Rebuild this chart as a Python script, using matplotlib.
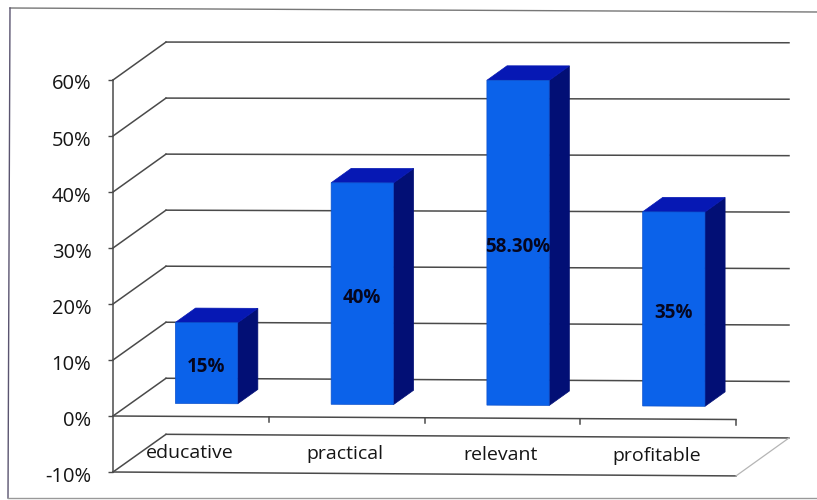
import matplotlib
matplotlib.use('Agg')
import matplotlib.pyplot as plt
from matplotlib.patches import Polygon
from matplotlib.lines import Line2D
from matplotlib.transforms import Affine2D

# values
categories = ['educative', 'practical', 'relevant', 'profitable']
values = [15, 40, 58.3, 35]
value_labels = ['15%', '40%', '58.30%', '35%']
y_ticks = [-10, 0, 10, 20, 30, 40, 50, 60]
y_tick_labels = ['-10%', '0%', '10%', '20%', '30%', '40%', '50%', '60%']

plt.rcParams['font.family'] = ['Open Sans', 'DejaVu Sans']

W, H = 817, 500
fig = plt.figure(figsize=(W / 100, H / 100), dpi=100)
ax = fig.add_axes([113 / W, (H - 472) / H, 623 / W, 392 / H])
ax.set_xlim(0, 4)
ax.set_ylim(-10, 60)
ax.patch.set_visible(False)

# oblique depth: a full step back moves this far in data units
DEPTH_X = 53 / 155.75
DEPTH_Y = 38 / 5.6
# the scan sags to the right, more at the bottom than at the top
SAG = 0.7
# bar tops sit a little under their nominal height in the 3D view
TOP_TRIM = 0.55


def proj(x, y, d):
    px, py = x + d * DEPTH_X, y + d * DEPTH_Y
    return (px, py - SAG * (px / 4) * (1 - 0.75 * (py + 10) / 70))


def seg(p, q, color='#4a4a4a', lw=1.1):
    ax.plot([p[0], q[0]], [p[1], q[1]], color=color, lw=lw, clip_on=False, zorder=1)


# back wall gridlines and left wall diagonals
for t in y_ticks[1:]:
    seg(proj(0, t, 1), proj(4, t, 1))
    seg(proj(0, t, 0), proj(0, t, 1))

# floor outline below the axis
seg(proj(0, -10, 0), proj(4, -10, 0))
seg(proj(0, -10, 1), proj(4, -10, 1))
seg(proj(0, -10, 0), proj(0, -10, 1))
seg(proj(4, -10, 0), proj(4, -10, 1), color='#b5b5b5', lw=0.9)

# front edge at 0% with its category ticks
seg(proj(0, 0, 0), proj(4, 0, 0))
for k in range(1, 5):
    seg(proj(k, 0, 0), proj(k, -1, 0))

# bars
bar_width = 0.40
d0, d1 = 0.34, 0.72
for i, (v, lab) in enumerate(zip(values, value_labels)):
    cx = i + 0.5 - 0.015
    xl, xr = cx - bar_width / 2, cx + bar_width / 2
    top_v = v - TOP_TRIM
    front = [proj(xl, 0, d0), proj(xr, 0, d0), proj(xr, top_v, d0), proj(xl, top_v, d0)]
    side = [proj(xr, 0, d0), proj(xr, 0, d1), proj(xr, top_v, d1), proj(xr, top_v, d0)]
    top = [proj(xl, top_v, d0), proj(xr, top_v, d0), proj(xr, top_v, d1), proj(xl, top_v, d1)]
    ax.add_patch(Polygon(side, closed=True, fc='#020f75', ec='#020f75', lw=0.5, zorder=3, clip_on=False))
    ax.add_patch(Polygon(top, closed=True, fc='#0618b4', ec='#0618b4', lw=0.5, zorder=3, clip_on=False))
    ax.add_patch(Polygon(front, closed=True, fc='#0b62ea', ec='#0b50cc', lw=0.5, zorder=4, clip_on=False))
    tx, ty = proj(cx, top_v / 2 - 0.7, d0)
    ax.text(tx, ty, lab, ha='center', va='center', fontsize=13.5, fontweight='bold',
            color='#06061e', zorder=5, clip_on=False)

# category names lie on the floor
for i, c in enumerate(categories):
    tx, ty = proj(i + 0.49, -6.5, 0)
    ax.text(tx, ty, c, ha='center', va='center', fontsize=14, color='#151515')

# y axis
ax.set_xticks([])
ax.set_yticks(y_ticks)
ax.set_yticklabels(y_tick_labels, fontsize=14.5, color='#151515')
ax.tick_params(axis='y', length=3.6, width=1.0, color='#4a4a4a', pad=12)
# labels sit a touch under their ticks
for lab in ax.get_yticklabels():
    lab.set_transform(lab.get_transform() + Affine2D().translate(0, -2))
for name in ['top', 'right', 'bottom']:
    ax.spines[name].set_visible(False)
ax.spines['left'].set_color('#4a4a4a')
ax.spines['left'].set_linewidth(1.1)

# chart area border, open on the right as in the scan
frame = [([10, 817], [8, 12]), ([10, 8], [8, 498]), ([8, 817], [498, 498])]
frame_colors = ['#777777', '#5a5470', '#999999']
for (xs, ys), col in zip(frame, frame_colors):
    fig.add_artist(Line2D([x / W for x in xs], [1 - y / H for y in ys],
                          color=col, lw=1.0))

fig.savefig('out.png', dpi=100)
